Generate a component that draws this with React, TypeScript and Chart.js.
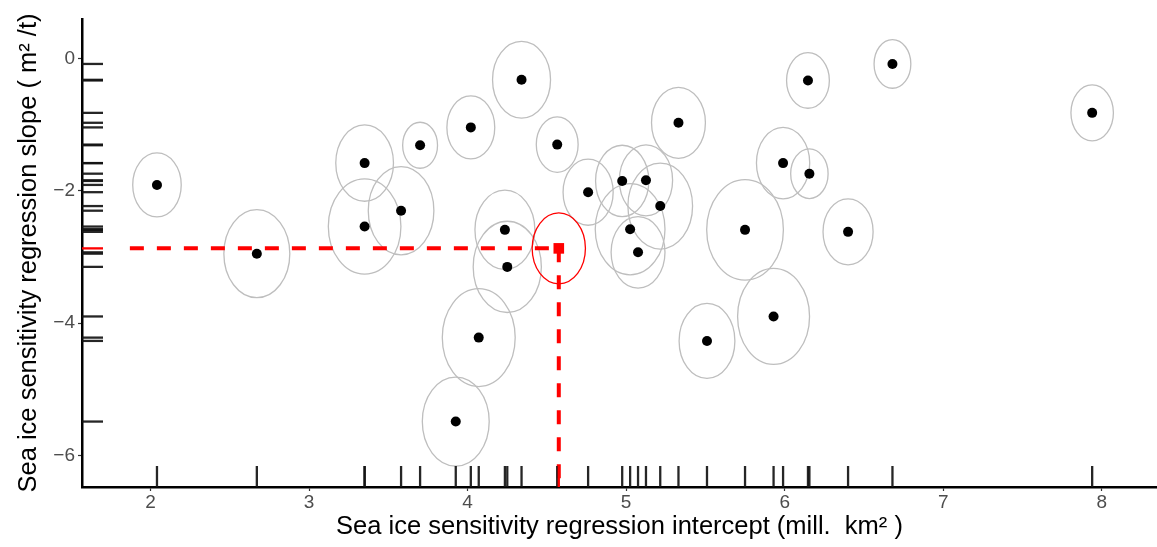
import React, { useEffect, useRef } from "react";
import { Chart, registerables } from "chart.js";

Chart.register(...registerables);

// Model estimates (intercept, slope) with their uncertainty half-widths
const interceptValues = [
  2.04, 2.67, 3.35, 3.35, 3.58, 3.70, 4.02, 4.34, 4.565, 4.235,
  4.25, 4.07, 3.925, 4.76, 4.975, 5.125, 5.215, 5.33, 5.025, 5.075,
  5.75, 5.99, 6.156, 6.147, 6.68, 7.94, 6.40, 5.51, 5.93,
];
const slopeValues = [
  -1.91, -2.95, -1.58, -2.54, -2.30, -1.31, -1.04, -0.32, -1.30, -2.59,
  -3.15, -4.22, -5.49, -2.02, -1.85, -1.84, -2.23, -0.97, -2.58, -2.93,
  -2.59, -1.58, -1.74, -0.33, -0.08, -0.82, -2.62, -4.27, -3.90,
];
const interceptSpread = [
  0.153, 0.208, 0.182, 0.229, 0.207, 0.110, 0.151, 0.183, 0.132, 0.189,
  0.215, 0.230, 0.211, 0.158, 0.168, 0.168, 0.204, 0.170, 0.220, 0.170,
  0.242, 0.168, 0.118, 0.135, 0.116, 0.134, 0.158, 0.176, 0.227,
];
const slopeSpread = [
  0.484, 0.665, 0.577, 0.720, 0.668, 0.348, 0.477, 0.580, 0.420, 0.600,
  0.690, 0.740, 0.673, 0.500, 0.540, 0.537, 0.650, 0.537, 0.690, 0.540,
  0.760, 0.540, 0.376, 0.420, 0.368, 0.424, 0.500, 0.567, 0.726,
];

// Observed estimate (highlighted)
const obsIntercept = [4.575];
const obsSlope = [-2.87];
const obsInterceptSpread = [0.168];
const obsSlopeSpread = [0.537];
const guideStart = [1.869];

const xTickValues = [2, 3, 4, 5, 6, 7, 8];
const yTickValues = [0, -2, -4, -6];
const xLimits = [1.567, 8.349];
const yLimits = [-6.48, 0.6];

const xTitle = "Sea ice sensitivity regression intercept (mill.  km\u00B2 )";
const yTitle = "Sea ice sensitivity regression slope ( m\u00B2 /t)";

const FONT = "'Liberation Sans', Arial, Helvetica, sans-serif";

const fmt = (v: any) => String(v).replace("-", "\u2212");

const decorPlugin = {
  id: "decor",
  beforeDatasetsDraw(chart: any) {
    const { ctx, scales } = chart;
    const xs = scales.x;
    const ys = scales.y;
    ctx.save();
    const drawEllipse = (cxv: number, cyv: number, sx: number, sy: number) => {
      const cx = xs.getPixelForValue(cxv);
      const cy = ys.getPixelForValue(cyv);
      const rx = Math.abs(xs.getPixelForValue(cxv + sx) - cx);
      const ry = Math.abs(ys.getPixelForValue(cyv + sy) - cy);
      ctx.beginPath();
      ctx.ellipse(cx, cy, rx, ry, 0, 0, Math.PI * 2);
      ctx.stroke();
    };
    ctx.lineWidth = 1.3;
    ctx.strokeStyle = "#bebebe";
    for (let i = 0; i < interceptValues.length; i++) {
      drawEllipse(interceptValues[i], slopeValues[i], interceptSpread[i], slopeSpread[i]);
    }
    ctx.strokeStyle = "#ff0000";
    for (let i = 0; i < obsIntercept.length; i++) {
      drawEllipse(obsIntercept[i], obsSlope[i], obsInterceptSpread[i], obsSlopeSpread[i]);
    }
    ctx.restore();
  },
  afterDatasetsDraw(chart: any) {
    const { ctx, scales, chartArea } = chart;
    const xs = scales.x;
    const ys = scales.y;
    const len = 21;
    ctx.save();
    ctx.lineWidth = 2.3;
    const rug = (xvals: number[], yvals: number[], color: string) => {
      ctx.strokeStyle = color;
      xvals.forEach((v) => {
        const px = xs.getPixelForValue(v);
        ctx.beginPath();
        ctx.moveTo(px, chartArea.bottom);
        ctx.lineTo(px, chartArea.bottom - len);
        ctx.stroke();
      });
      yvals.forEach((v) => {
        const py = ys.getPixelForValue(v);
        ctx.beginPath();
        ctx.moveTo(chartArea.left, py);
        ctx.lineTo(chartArea.left + len, py);
        ctx.stroke();
      });
    };
    rug(interceptValues, slopeValues, "rgba(20,20,20,0.92)");
    rug(obsIntercept, obsSlope, "#ff0000");
    ctx.restore();
  },
};

export default function App() {
  const canvasRef = useRef<HTMLCanvasElement | null>(null);

  useEffect(() => {
    if (!canvasRef.current) return;
    const chart = new Chart(canvasRef.current, {
      type: "scatter",
      data: {
        datasets: [
          {
            type: "scatter",
            data: obsIntercept.map((x, i) => ({ x, y: obsSlope[i] })),
            backgroundColor: "#ff0000",
            borderWidth: 0,
            pointStyle: "rect",
            pointRadius: 7.5,
            order: 0,
          } as any,
          {
            type: "line",
            data: [
              { x: guideStart[0], y: obsSlope[0] },
              { x: obsIntercept[0], y: obsSlope[0] },
            ],
            borderColor: "#ff0000",
            borderWidth: 4,
            borderDash: [14, 13],
            pointRadius: 0,
            fill: false,
            order: 1,
          } as any,
          {
            type: "line",
            data: [
              { x: obsIntercept[0], y: obsSlope[0] },
              { x: obsIntercept[0], y: yLimits[0] },
            ],
            borderColor: "#ff0000",
            borderWidth: 4,
            borderDash: [14, 13],
            pointRadius: 0,
            fill: false,
            order: 1,
          } as any,
          {
            type: "scatter",
            data: interceptValues.map((x, i) => ({ x, y: slopeValues[i] })),
            backgroundColor: "#000000",
            borderWidth: 0,
            pointRadius: 5,
            order: 2,
          } as any,
        ],
      },
      options: {
        animation: false,
        responsive: true,
        maintainAspectRatio: false,
        layout: { autoPadding: false, padding: { top: 19, right: 0, left: 0, bottom: 0 } },
        plugins: {
          legend: { display: false },
          tooltip: { enabled: false },
        },
        scales: {
          x: {
            type: "linear",
            min: xLimits[0],
            max: xLimits[1],
            afterBuildTicks: (s: any) => {
              s.ticks = xTickValues.map((v) => ({ value: v }));
            },
            afterFit: (s: any) => {
              s.height = 60;
              s.paddingLeft = 0;
              s.paddingRight = 0;
            },
            grid: {
              display: true,
              drawOnChartArea: false,
              drawTicks: true,
              tickLength: 4,
              tickWidth: 1.2,
              tickColor: "#333333",
            },
            border: { display: true, color: "#000000", width: 2.5 },
            ticks: {
              color: "#4d4d4d",
              font: { size: 19, family: FONT },
              padding: 0,
              maxRotation: 0,
              autoSkip: false,
              callback: (v: any) => fmt(v),
            },
            title: {
              display: true,
              text: xTitle,
              color: "#000000",
              font: { size: 25.5, family: FONT },
              padding: { top: 0, bottom: 5 },
            },
          },
          y: {
            type: "linear",
            min: yLimits[0],
            max: yLimits[1],
            afterBuildTicks: (s: any) => {
              s.ticks = yTickValues.map((v) => ({ value: v }));
            },
            afterFit: (s: any) => {
              s.width = 82;
              s.paddingTop = 0;
              s.paddingBottom = 0;
            },
            grid: {
              display: true,
              drawOnChartArea: false,
              drawTicks: true,
              tickLength: 4,
              tickWidth: 1.2,
              tickColor: "#333333",
            },
            border: { display: true, color: "#000000", width: 2.5 },
            ticks: {
              color: "#4d4d4d",
              font: { size: 19, family: FONT },
              padding: 3,
              autoSkip: false,
              callback: (v: any) => fmt(v),
            },
            title: {
              display: true,
              text: yTitle,
              color: "#000000",
              font: { size: 25.5, family: FONT },
              padding: { top: 14, bottom: 0 },
            },
          },
        },
      },
      plugins: [decorPlugin],
    } as any);
    return () => chart.destroy();
  }, []);

  return (
    <div
      style={{
        position: "fixed",
        left: 0,
        top: 0,
        width: 1157,
        height: 547,
        background: "#ffffff",
      }}
    >
      <canvas ref={canvasRef} />
    </div>
  );
}
